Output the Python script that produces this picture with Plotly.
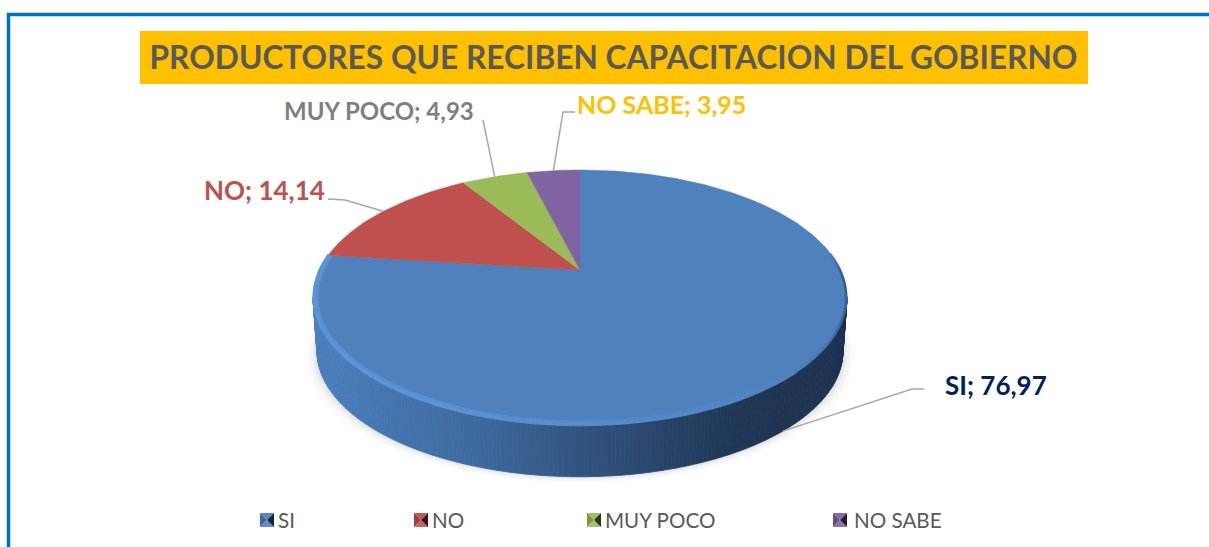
import math
import plotly.graph_objects as go

# ---------- data ----------
categories = ["SI", "NO", "MUY POCO", "NO SABE"]
values = [76.97, 14.14, 4.93, 3.95]
slice_colors = ["#4f81bd", "#c0504d", "#9bbb59", "#8064a2"]
label_colors = ["#002060", "#c0504d", "#7f7f7f", "#ffc000"]
title_text = "PRODUCTORES QUE RECIBEN CAPACITACION DEL GOBIERNO"

W, H = 1209, 547
FONT = "Lato"

# ---------- perspective disc projection ----------
CX, CY = 580.0, 270.0
A, B, K = 121.6, 260.7, 0.2157
S_BOTTOM, DROP = 0.985, 54.0


def top(theta, scale=1.0):
    """theta: radians clockwise from 12 o'clock."""
    u, v = math.sin(theta) * scale, math.cos(theta) * scale
    d = 1 + K * v
    return CX + B * u / d, CY - A * v / d


def bottom(theta):
    x, y = top(theta)
    return CX + (x - CX) * S_BOTTOM, CY + (y - CY) * S_BOTTOM + DROP


def mix(c1, c2, t):
    a = [int(c1[i:i + 2], 16) for i in (1, 3, 5)]
    b = [int(c2[i:i + 2], 16) for i in (1, 3, 5)]
    return "#%02x%02x%02x" % tuple(round(p + (q - p) * t) for p, q in zip(a, b))


def side_color(f):
    stops = [(0.0, "#4a7fbe"), (0.3, "#3f6a9f"), (0.55, "#2f4f7a"), (0.8, "#1f3654"), (1.0, "#1c3150")]
    for (f0, c0), (f1, c1) in zip(stops, stops[1:]):
        if f <= f1:
            return mix(c0, c1, (f - f0) / (f1 - f0))
    return stops[-1][1]


total = sum(values)
edges = [0.0]
for val in values:
    edges.append(edges[-1] + val / total * 2 * math.pi)

fig = go.Figure()


def poly(xs, ys, color, line=0.0, opacity=1.0):
    fig.add_trace(go.Scatter(
        x=xs, y=ys, mode="lines", fill="toself", fillcolor=color, opacity=opacity,
        line=dict(color=color, width=line), hoverinfo="skip", showlegend=False))


def segment(p0, p1, color, width, opacity=1.0):
    fig.add_trace(go.Scatter(
        x=[p0[0], p1[0]], y=[p0[1], p1[1]], mode="lines", opacity=opacity,
        line=dict(color=color, width=width), hoverinfo="skip", showlegend=False))


# soft shadow round the base
for grow, alpha in ((10, 0.04), (7, 0.05), (4, 0.07), (2, 0.08)):
    xs, ys = [], []
    for d in range(361):
        x, y = bottom(math.radians(d))
        xs.append(CX + (x - CX) * (1 + grow / 262))
        ys.append(y + grow * 0.6)
    poly(xs, ys, "#808080", opacity=alpha)

# visible wall: strips between the top and bottom rims, shaded by position
N = 200
start, end = math.radians(102), math.radians(258)
for i in range(N):
    t0 = start + (end - start) * i / N
    t1 = start + (end - start) * (i + 1) / N
    x0t, y0t = top(t0)
    x1t, y1t = top(t1)
    x0b, y0b = bottom(t0)
    x1b, y1b = bottom(t1)
    f = (x0t - 313) / (847 - 313)
    poly([x0t, x1t, x1b, x0b, x0t], [y0t, y1t, y1b, y0b, y0t], side_color(f), line=0.8)

# top face, one wedge per value
for i, name in enumerate(categories):
    n = max(6, int((edges[i + 1] - edges[i]) * 60))
    pts = [top(edges[i] + (edges[i + 1] - edges[i]) * j / n) for j in range(n + 1)]
    xs = [CX] + [p[0] for p in pts] + [CX]
    ys = [CY] + [p[1] for p in pts] + [CY]
    fig.add_trace(go.Scatter(
        x=xs, y=ys, mode="lines", fill="toself", fillcolor=slice_colors[i], name=name,
        line=dict(color=slice_colors[i], width=0.5), showlegend=False,
        hovertemplate=f"{name}: {values[i]}<extra></extra>"))

# dark blurred edge on the right of the rim
for i in range(40):
    t0 = math.radians(82) + math.radians(55) * i / 40
    t1 = math.radians(82) + math.radians(55) * (i + 1) / 40
    w = min(1.0, i / 8) * (1 - i / 40)
    p0, p1 = top(t0, 0.997), top(t1, 0.997)
    segment(p0, p1, mix("#4f81bd", "#2c4a72", w), 2.5)

# bevel highlight on the front rim of the first wedge
M = 80
b0, b1 = math.radians(135), edges[1]
for i in range(M):
    t0 = b0 + (b1 - b0) * i / M
    t1 = b0 + (b1 - b0) * (i + 1) / M
    w = min(1.0, i / 40)
    p0, p1 = top(t0, 0.991), top(t1, 0.991)
    segment(p0, p1, mix("#4f81bd", "#5890d2", w), 6)
    p0, p1 = top(t0, 0.994), top(t1, 0.994)
    segment(p0, p1, mix("#4f81bd", "#5c95d8", w), 3)


def mid(i):
    return (edges[i] + edges[i + 1]) / 2


# leader lines start at each wedge's middle
leader_ends = [
    [(912, 389), (924, 389)],
    [(345, 200), (328, 199)],
    [(483, 120)],
    [(563, 112), (575, 112)],
]
shapes = []
for i, ends in enumerate(leader_ends):
    s = bottom(mid(i)) if i == 0 else top(mid(i))
    path = f"M{s[0]:.1f},{s[1]:.1f} " + " ".join(f"L{x},{y}" for x, y in ends)
    shapes.append(dict(type="path", path=path, xref="x", yref="y",
                       line=dict(color="#a6a6a6", width=1.5), layer="above"))

# banner and outer frame
shapes.append(dict(type="rect", xref="x", yref="y", x0=140, x1=1088, y0=31, y1=84,
                   fillcolor="#ffc000", line=dict(width=0), layer="below"))
shapes.append(dict(type="rect", xref="x", yref="y", x0=8.5, x1=1240, y0=14.5, y1=600,
                   fillcolor="rgba(0,0,0,0)", line=dict(color="#0070c0", width=3.5), layer="below"))

# data labels
label_pos = [(996, 385), (264, 190), (379, 110), (661, 104)]
label_sizes = [26, 26, 24, 25]
annotations = []
for name, val, col, (x, y), fs in zip(categories, values, label_colors, label_pos, label_sizes):
    annotations.append(dict(
        x=x, y=y, xref="x", yref="y", showarrow=False,
        text=f"<b>{name}; {val:.2f}</b>".replace(".", ","),
        font=dict(family=FONT, size=fs, color=col)))

# legend: one legend per entry so the spacing can follow the picture
legend_x = [276, 430, 603, 852]
swatch_x = [260, 414, 587, 833]
layout_legends = {}
for i, name in enumerate(categories):
    key = "legend" if i == 0 else f"legend{i + 1}"
    fig.add_trace(go.Scatter(
        x=[None], y=[None], mode="markers", name=name, legend=key,
        marker=dict(symbol="square", size=12, color="rgba(0,0,0,0)", line=dict(width=0)),
        hoverinfo="skip"))
    layout_legends[key] = dict(
        x=(legend_x[i] - 38) / W, y=1 - 520 / H, xanchor="left", yanchor="middle",
        orientation="h", bgcolor="rgba(0,0,0,0)", borderwidth=0,
        font=dict(family=FONT, size=20.6, color="#595959"))
    sx, sy, sz = swatch_x[i], 513, 14
    c = slice_colors[i]
    cx, cy = sx + sz / 2, sy + sz / 2
    tris = [
        ((sx, sy), (sx + sz, sy), mix(c, "#ffffff", 0.05)),
        ((sx, sy + sz), (sx + sz, sy + sz), mix(c, "#ffffff", 0.1)),
        ((sx, sy), (sx, sy + sz), mix(c, "#000000", 0.2)),
        ((sx + sz, sy), (sx + sz, sy + sz), mix(c, "#000000", 0.72)),
    ]
    for p, q, col in tris:
        shapes.append(dict(type="path", xref="x", yref="y",
                           path=f"M{p[0]},{p[1]} L{q[0]},{q[1]} L{cx},{cy} Z",
                           fillcolor=col, line=dict(width=0), layer="below"))

fig.update_layout(
    width=W, height=H, margin=dict(l=0, r=0, t=0, b=0),
    paper_bgcolor="#ffffff", plot_bgcolor="rgba(0,0,0,0)",
    title=dict(text=f"<b>{title_text}</b>", x=613.5 / W, xanchor="center", xref="paper",
               y=1 - 58 / H, yanchor="middle", yref="paper",
               font=dict(family=FONT, size=31.7, color="#595959")),
    xaxis=dict(range=[0, W], visible=False, fixedrange=True),
    yaxis=dict(range=[H, 0], visible=False, fixedrange=True),
    shapes=shapes, annotations=annotations, **layout_legends,
)

fig.write_html("out.html", config={"displayModeBar": False},
               post_script="document.body.style.margin='0';document.body.style.overflow='hidden';")
